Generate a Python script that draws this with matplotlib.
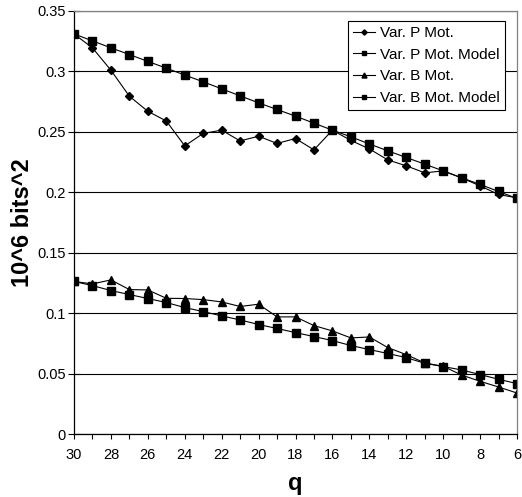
import matplotlib
matplotlib.use("Agg")
import matplotlib.pyplot as plt
from matplotlib.ticker import FuncFormatter, MultipleLocator

plt.rcParams['font.family'] = ['Liberation Sans', 'DejaVu Sans']

q = [30, 29, 28, 27, 26, 25, 24, 23, 22, 21, 20, 19, 18,
     17, 16, 15, 14, 13, 12, 11, 10, 9, 8, 7, 6]

var_p_mot = [0.331, 0.3195, 0.301, 0.2795, 0.267, 0.259, 0.2384, 0.2487,
             0.2514, 0.2425, 0.2464, 0.2404, 0.2445, 0.2351, 0.2514, 0.2429,
             0.2359, 0.2268, 0.2219, 0.2161, 0.2177, 0.2119, 0.2053, 0.1982,
             0.1954]
var_p_model = [0.331, 0.3253, 0.3195, 0.314, 0.3083, 0.3027, 0.297, 0.2914,
               0.2856, 0.2798, 0.274, 0.2685, 0.263, 0.2572, 0.2514, 0.2459,
               0.240, 0.2343, 0.2288, 0.2233, 0.2177, 0.212, 0.2065, 0.2007,
               0.1949]
var_b_mot = [0.1262, 0.1242, 0.1275, 0.1195, 0.1192, 0.1123, 0.1121, 0.1112,
             0.1093, 0.1055, 0.1074, 0.0969, 0.0969, 0.0897, 0.0853, 0.0795,
             0.0803, 0.0715, 0.0657, 0.0588, 0.056, 0.0488, 0.0436, 0.0389,
             0.0339]
var_b_model = [0.1262, 0.1228, 0.1187, 0.1154, 0.1121, 0.1088, 0.1046,
               0.1013, 0.0977, 0.0944, 0.0906, 0.0873, 0.0839, 0.0806, 0.0773,
               0.0732, 0.0699, 0.0666, 0.0632, 0.0585, 0.0558, 0.053, 0.0492,
               0.0453, 0.0417]

labels = ["Var. P Mot.", "Var. P Mot. Model", "Var. B Mot.", "Var. B Mot. Model"]

fig = plt.figure(figsize=(5.22, 4.97), dpi=100)
ax = fig.add_axes([74 / 522, 1 - 434 / 497, (517 - 74) / 522, (434 - 11) / 497])

line_kw = dict(color='black', lw=0.8, mfc='black', mec='black')
ax.plot(q, var_p_mot, marker='D', ms=4.5, label=labels[0], **line_kw)
ax.plot(q, var_p_model, marker='s', ms=5.5, label=labels[1], **line_kw)
ax.plot(q, var_b_mot, marker='^', ms=6, label=labels[2], **line_kw)
ax.plot(q, var_b_model, marker='s', ms=5.5, label=labels[3], **line_kw)

ax.set_xlim(30, 6)
ax.set_ylim(0, 0.35)
ax.xaxis.set_major_locator(MultipleLocator(2))
ax.xaxis.set_minor_locator(MultipleLocator(1))
ax.yaxis.set_major_locator(MultipleLocator(0.05))
ax.yaxis.set_major_formatter(FuncFormatter(lambda v, p: f"{v:g}"))

ax.grid(axis='y', color='black', lw=0.8)
ax.set_axisbelow(True)

for s in ('left', 'bottom'):
    ax.spines[s].set_color('black')
    ax.spines[s].set_linewidth(0.9)
for s in ('top', 'right'):
    ax.spines[s].set_color('#808080')
    ax.spines[s].set_linewidth(0.9)

ax.tick_params(axis='y', direction='inout', length=8, width=0.8, labelsize=10.5, pad=2)
ax.tick_params(axis='x', which='both', direction='out', length=3.6, width=0.8)
ax.tick_params(axis='x', which='major', labelsize=10.5, pad=6.5)

ax.set_ylabel("10^6 bits^2", fontsize=17, fontweight='bold', labelpad=2)
ax.set_xlabel("q", fontsize=17, fontweight='bold', labelpad=7)

leg = ax.legend(loc='upper right', bbox_to_anchor=(0.973, 0.977), fontsize=11,
                frameon=True, fancybox=False, edgecolor='black', framealpha=1,
                markerscale=0.6, handlelength=1.45, handletextpad=0.3,
                borderpad=0.35, labelspacing=0.5, borderaxespad=0)
leg.get_frame().set_linewidth(0.8)

fig.savefig("out.png", dpi=100)
